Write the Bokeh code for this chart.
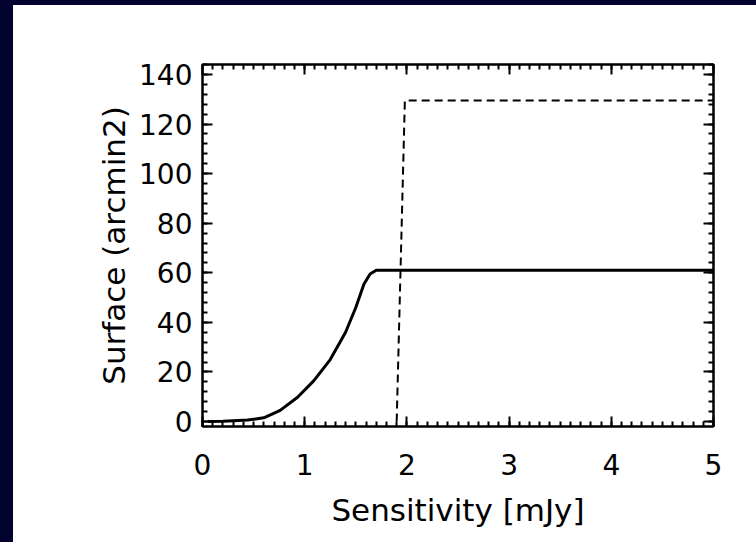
from bokeh.plotting import figure
from bokeh.models import LinearAxis, SingleIntervalTicker, Range1d
from bokeh.embed import file_html
from bokeh.resources import INLINE

# Data
solid_x = [0.05, 0.20, 0.30, 0.44, 0.60, 0.76, 0.93, 1.09, 1.25, 1.40, 1.50, 1.58, 1.64, 1.70, 5.00]
solid_y = [0.0, 0.1, 0.3, 0.6, 1.5, 4.5, 9.8, 16.5, 25.0, 36.0, 46.0, 55.5, 59.5, 61.0, 61.0]
dash_x = [1.90, 1.98, 5.00]
dash_y = [0.0, 129.5, 129.5]

x_label = "Sensitivity [mJy]"
y_label = "Surface (arcmin2)"

FONT = "DejaVu Sans"

p = figure(width=743, height=537, output_backend="svg", toolbar_location=None,
           x_range=Range1d(0, 5), y_range=Range1d(-2, 144),
           min_border_left=189, min_border_right=43, min_border_top=59, min_border_bottom=116,
           x_axis_location=None, y_axis_location=None)
p.grid.visible = False
p.background_fill_color = "white"
p.border_fill_color = "white"
p.outline_line_color = "black"
p.outline_line_width = 2

p.line(solid_x, solid_y, line_color="black", line_width=3, line_join="round")
p.line(dash_x, dash_y, line_color="black", line_width=2, line_dash="8 5")

def style(ax, labels=True):
    ax.axis_line_color = "black"
    ax.axis_line_width = 2
    ax.major_tick_in = 10
    ax.major_tick_out = 0
    ax.minor_tick_in = 5
    ax.minor_tick_out = 0
    ax.major_tick_line_color = "black"
    ax.major_tick_line_width = 2
    ax.minor_tick_line_color = "black"
    ax.minor_tick_line_width = 2
    ax.major_label_text_font = FONT
    ax.major_label_text_font_size = "28px"
    ax.major_label_text_color = "black"
    ax.axis_label_text_font = FONT
    ax.axis_label_text_font_size = "31px"
    ax.axis_label_text_font_style = "normal"
    ax.axis_label_text_color = "black"
    if not labels:
        ax.major_label_text_font_size = "0px"
        ax.major_label_text_alpha = 0

xb = LinearAxis(ticker=SingleIntervalTicker(interval=1, num_minor_ticks=10), axis_label=x_label)
style(xb)
xb.major_label_standoff = 27
xb.axis_label_standoff = 14
p.add_layout(xb, "below")

xt = LinearAxis(ticker=SingleIntervalTicker(interval=1, num_minor_ticks=10))
style(xt, labels=False)
p.add_layout(xt, "above")

yl = LinearAxis(ticker=SingleIntervalTicker(interval=20, num_minor_ticks=5), axis_label=y_label)
style(yl)
yl.major_label_standoff = 10
yl.axis_label_standoff = 4
p.add_layout(yl, "left")

yr = LinearAxis(ticker=SingleIntervalTicker(interval=20, num_minor_ticks=5))
style(yr, labels=False)
p.add_layout(yr, "right")

html = file_html(p, INLINE)
css = ("<style>html,body{margin:0;padding:0;background:#ffffff;}"
       "body{padding:5px 0 0 13px;overflow:hidden;}"
       "body::before{content:'';position:fixed;left:0;top:0;width:13px;height:100%;background:#01032e;z-index:10;}"
       "body::after{content:'';position:fixed;left:0;top:0;width:100%;height:5px;background:#01032e;z-index:10;}"
       "</style></head>")
html = html.replace("</head>", css, 1)
open("out.html", "w").write(html)
